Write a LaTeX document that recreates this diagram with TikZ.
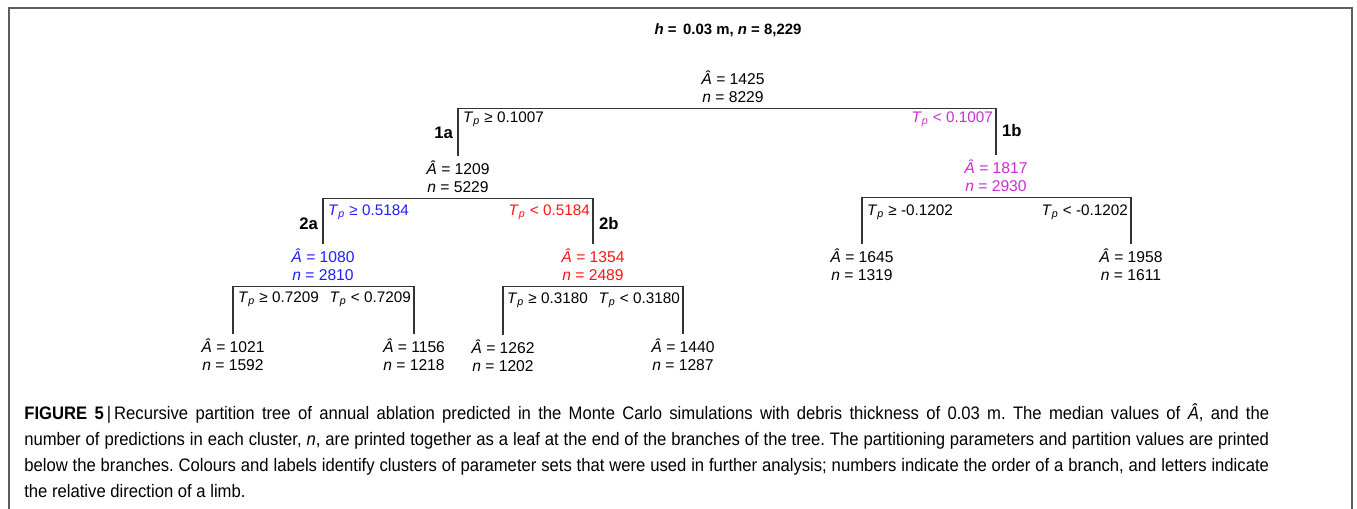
\documentclass[tikz,border=0pt]{standalone}
\usepackage{fontspec}
\setmainfont{Liberation Sans}
\newfontfamily\capfont[FakeStretch=0.92]{Liberation Sans}
\usetikzlibrary{positioning}
\definecolor{rppurple}{RGB}{200,45,210}
\definecolor{rpblue}{RGB}{30,30,255}
\definecolor{rpred}{RGB}{255,20,20}
\definecolor{rpgray}{RGB}{95,95,95}
\newcommand{\Ahat}{\textit{Â}}
\newcommand{\Tp}{\textit{T}\textsubscript{\textit{p}}}
\newcommand{\leaftext}[2]{\Ahat{} = #1\\\textit{n} = #2}
\frenchspacing
\hyphenpenalty=10000

\begin{document}
\begin{tikzpicture}[
    x=0.02cm,y=-0.02cm,
    font=\fontsize{8.9}{10.2}\selectfont,
    leaf/.style={align=center,inner xsep=1pt,inner ysep=3pt},
    cut/.style={inner sep=1pt,font=\fontsize{8.7}{10}\selectfont},
    order/.style={inner sep=1pt,font=\fontsize{9.5}{11}\selectfont\bfseries},
    limb/.style={draw=black!80,line width=0.7pt}
  ]
    \useasboundingbox (0,0) rectangle (1357,509);
    \draw[rpgray,line width=1pt] (9,509) |- (1352,8) -- (1352,509);
    \node[font=\fontsize{8.5}{10}\selectfont\bfseries] (title) at (728,30) {\textit{h} =\, 0.03 m, \textit{n} = 8,229};

    \node[leaf] (root) at (733,87) {\leaftext{1425}{8229}};
    \node[leaf] (n1a) at (458,177) {\leaftext{1209}{5229}};
    \node[leaf,text=rppurple] (n1b) at (996,176) {\leaftext{1817}{2930}};
    \node[leaf,text=rpblue] (n2a) at (323,265) {\leaftext{1080}{2810}};
    \node[leaf,text=rpred] (n2b) at (593,265) {\leaftext{1354}{2489}};
    \node[leaf] (l2aa) at (233,355) {\leaftext{1021}{1592}};
    \node[leaf] (l2ab) at (414,355) {\leaftext{1156}{1218}};
    \node[leaf] (l2ba) at (503,356) {\leaftext{1262}{1202}};
    \node[leaf] (l2bb) at (683,355) {\leaftext{1440}{1287}};
    \node[leaf] (l1ba) at (862,265) {\leaftext{1645}{1319}};
    \node[leaf] (l1bb) at (1131,265) {\leaftext{1958}{1611}};

    \draw[limb] (n1a.north) |- (root.south) -| (n1b.north);
    \draw[limb] (n2a.north) |- (n1a.south) -| (n2b.north);
    \draw[limb] (l1ba.north) |- (n1b.south) -| (l1bb.north);
    \draw[limb] (l2aa.north) |- (n2a.south) -| (l2ab.north);
    \draw[limb] (l2ba.north) |- (n2b.south) -| (l2bb.north);

    \node[cut,anchor=west] (c1a) at (461,119) {\Tp{} ≥ 0.1007};
    \node[cut,anchor=east,text=rppurple] (c1b) at (995,119) {\Tp{} < 0.1007};
    \node[cut,anchor=west,text=rpblue] (c2a) at (326,212) {\Tp{} ≥ 0.5184};
    \node[cut,anchor=east,text=rpred] (c2b) at (592,212) {\Tp{} < 0.5184};
    \node[cut,anchor=west] (c3a) at (865,212) {\Tp{} ≥ -0.1202};
    \node[cut,anchor=east] (c3b) at (1130,212) {\Tp{} < -0.1202};
    \node[cut,anchor=west] (c4a) at (236,299) {\Tp{} ≥ 0.7209};
    \node[cut,anchor=east] (c4b) at (413,299) {\Tp{} < 0.7209};
    \node[cut,anchor=west] (c5a) at (505,300) {\Tp{} ≥ 0.3180};
    \node[cut,anchor=east] (c5b) at (682,300) {\Tp{} < 0.3180};

    \node[order,anchor=east] (o1a) at (455,133) {1a};
    \node[order,anchor=west] (o1b) at (1000,131) {1b};
    \node[order,anchor=east] (o2a) at (320,224) {2a};
    \node[order,anchor=west] (o2b) at (597,224) {2b};

    \node[anchor=north west,align=justify,text width=24.9cm,inner sep=0pt,
      font=\capfont\fontsize{10.3}{14.9}\selectfont] (caption) at (24,403)
      {\textbf{FIGURE 5}\,|\,Recursive partition tree of annual ablation predicted in the Monte Carlo simulations with debris thickness of 0.03 m. The median values of \Ahat, and the\linebreak
      number of predictions in each cluster, \textit{n}, are printed together as a leaf at the end of the branches of the tree. The partitioning parameters and partition values are printed\linebreak
      below the branches. Colours and labels identify clusters of parameter sets that were used in further analysis; numbers indicate the order of a branch, and letters indicate\linebreak
      the relative direction of a limb.};
  \end{tikzpicture}
\end{document}
